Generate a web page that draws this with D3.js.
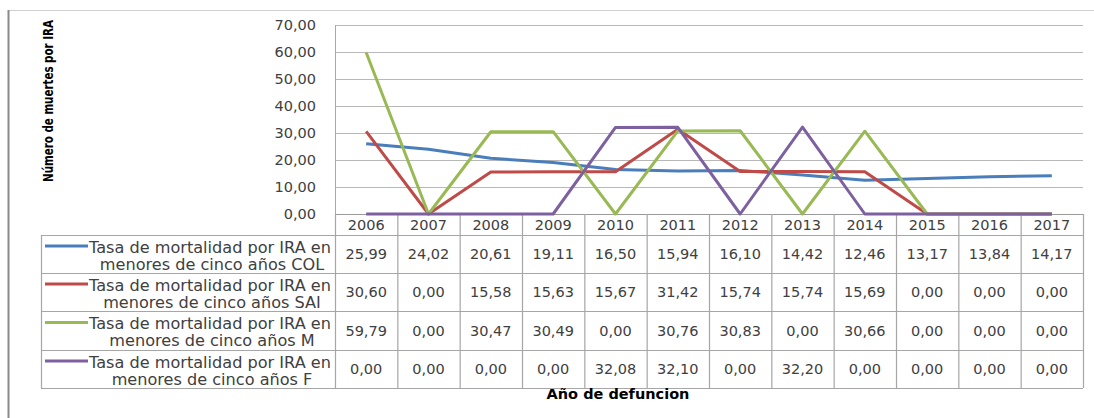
<!DOCTYPE html>
<html><head><meta charset="utf-8">
<script src="https://cdn.jsdelivr.net/npm/d3@7"></script>
<style>body{margin:0;background:#fff}svg{display:block}</style>
</head><body>
<svg id="c" width="1094" height="418"></svg>
<script>
const years = ["2006","2007","2008","2009","2010","2011","2012","2013","2014","2015","2016","2017"];
const serCOL = [25.99,24.02,20.61,19.11,16.50,15.94,16.10,14.42,12.46,13.17,13.84,14.17];
const serSAI = [30.60,0.00,15.58,15.63,15.67,31.42,15.74,15.74,15.69,0.00,0.00,0.00];
const serM   = [59.79,0.00,30.47,30.49,0.00,30.76,30.83,0.00,30.66,0.00,0.00,0.00];
const serF   = [0.00,0.00,0.00,0.00,32.08,32.10,0.00,32.20,0.00,0.00,0.00,0.00];
const seriesNames = ["Tasa de mortalidad por IRA en menores de cinco años COL",
  "Tasa de mortalidad por IRA en menores de cinco años SAI",
  "Tasa de mortalidad por IRA en menores de cinco años M",
  "Tasa de mortalidad por IRA en menores de cinco años F"];
const yTicks = [0,10,20,30,40,50,60,70];
const yTitle = "Número de muertes por IRA";
const xTitle = "Año de defuncion";

const colors = ["#4a7ebb","#be4b48","#98b954","#7d60a0"];
const series = [serCOL, serSAI, serM, serF];
const fmt = v => v.toFixed(2).replace(".", ",");
const FONT = "DejaVu Sans, Verdana, sans-serif";

const svg = d3.select("#c");
// outer frame
svg.append("line").attr("x1",8).attr("x2",1094).attr("y1",10.5).attr("y2",10.5).attr("stroke","#d0d0d0");
svg.append("line").attr("x1",8.5).attr("x2",8.5).attr("y1",10).attr("y2",418).attr("stroke","#8a8a8a").attr("stroke-width",2);

const L = 335, R = 1083, T = 25, B = 214;
const x = d3.scaleBand().domain(years).range([L, R]);
const y = d3.scaleLinear().domain([0,70]).range([B, T]);

// gridlines
svg.append("g").selectAll("line").data(yTicks.filter(t=>t>0)).join("line")
  .attr("x1",L).attr("x2",R).attr("y1",d=>Math.round(y(d))+0.5).attr("y2",d=>Math.round(y(d))+0.5)
  .attr("stroke","#b8b8b8").attr("stroke-width",1.2);
svg.append("line").attr("x1",L+0.5).attr("x2",L+0.5).attr("y1",T).attr("y2",B).attr("stroke","#a8a8a8");

// y axis labels
const yAxis = d3.axisLeft(y).tickValues(yTicks).tickFormat(fmt).tickSize(0).tickPadding(0);
const ga = svg.append("g").attr("transform",`translate(316,0)`).call(yAxis);
ga.select(".domain").remove();
ga.selectAll("text").attr("font-family",FONT).attr("font-size",14.5).attr("fill","#404040");

// y title: condensed along its length to the reference's extent
const yt = svg.append("text").attr("text-anchor","middle")
  .attr("font-family","Liberation Sans Narrow, Arial Narrow, DejaVu Sans Condensed, DejaVu Sans, sans-serif")
  .attr("font-weight","bold").attr("font-size",14.5).attr("fill","#000").text(yTitle);
{
  const w = yt.node().getComputedTextLength();
  const sx = Math.min(1, 162/w);
  yt.attr("transform",`translate(53,101) rotate(-90) scale(${sx},1)`);
}

// table
const rowTops = [235, 273, 311, 350, 388];
const HT = 214, LL = 41;
const tb = svg.append("g").attr("stroke","#a6a6a6").attr("stroke-width",1.2);
tb.append("line").attr("x1",L).attr("x2",R).attr("y1",HT+0.5).attr("y2",HT+0.5).attr("stroke","#9a9a9a");
rowTops.forEach(t=>tb.append("line").attr("x1",LL).attr("x2",R).attr("y1",t+0.5).attr("y2",t+0.5));
tb.append("line").attr("x1",LL+0.5).attr("x2",LL+0.5).attr("y1",235).attr("y2",388);
years.forEach(yy=>tb.append("line").attr("x1",x(yy)+0.5).attr("x2",x(yy)+0.5).attr("y1",HT).attr("y2",388));
tb.append("line").attr("x1",R+0.5).attr("x2",R+0.5).attr("y1",HT).attr("y2",388);

// year headers
svg.append("g").selectAll("text").data(years).join("text")
  .attr("x",d=>x(d)+x.bandwidth()/2).attr("y",225).attr("dy","0.36em").attr("text-anchor","middle")
  .attr("font-family",FONT).attr("font-size",14.5).attr("fill","#404040").text(d=>d);

// values
series.forEach((s,i)=>{
  const cy = (rowTops[i]+rowTops[i+1])/2;
  svg.append("g").selectAll("text").data(s).join("text")
    .attr("x",(d,j)=>x(years[j])+x.bandwidth()/2).attr("y",cy).attr("dy","0.36em").attr("text-anchor","middle")
    .attr("font-family",FONT).attr("font-size",14.5).attr("fill","#404040").text(d=>fmt(d));
});

// legend cells
series.forEach((s,i)=>{
  const cy = (rowTops[i]+rowTops[i+1])/2;
  const name = seriesNames[i];
  const idx = name.indexOf(" menores");
  const l1 = name.slice(0, idx), l2 = name.slice(idx+1);
  svg.append("line").attr("x1",45).attr("x2",88).attr("y1",cy-8).attr("y2",cy-8)
    .attr("stroke",colors[i]).attr("stroke-width",3);
  const t1 = svg.append("text").attr("x",210).attr("y",cy-7).attr("dy","0.36em").attr("text-anchor","middle")
    .attr("font-family",FONT).attr("font-size",14).attr("fill","#404040").text(l1);
  const w = t1.node().getComputedTextLength();
  const fs = 14*242/w;
  t1.attr("font-size",fs);
  svg.append("text").attr("x",212).attr("y",cy+10).attr("dy","0.36em").attr("text-anchor","middle")
    .attr("font-family",FONT).attr("font-size",fs).attr("fill","#404040").text(l2);
});

// x title
const xt = svg.append("text").attr("x",618).attr("y",394).attr("dy","0.36em").attr("text-anchor","middle")
  .attr("font-family",FONT).attr("font-weight","bold").attr("font-size",13.5).attr("fill","#000").text(xTitle);
{
  const w = xt.node().getComputedTextLength();
  xt.attr("font-size", 13.5*143/w);
}

// lines
const line = d3.line().x((d,j)=>x(years[j])+x.bandwidth()/2).y(d=>y(d));
series.forEach((s,i)=>{
  svg.append("path").datum(s).attr("d",line).attr("fill","none")
    .attr("stroke",colors[i]).attr("stroke-width",3).attr("stroke-linejoin","round");
});
</script>
</body></html>
